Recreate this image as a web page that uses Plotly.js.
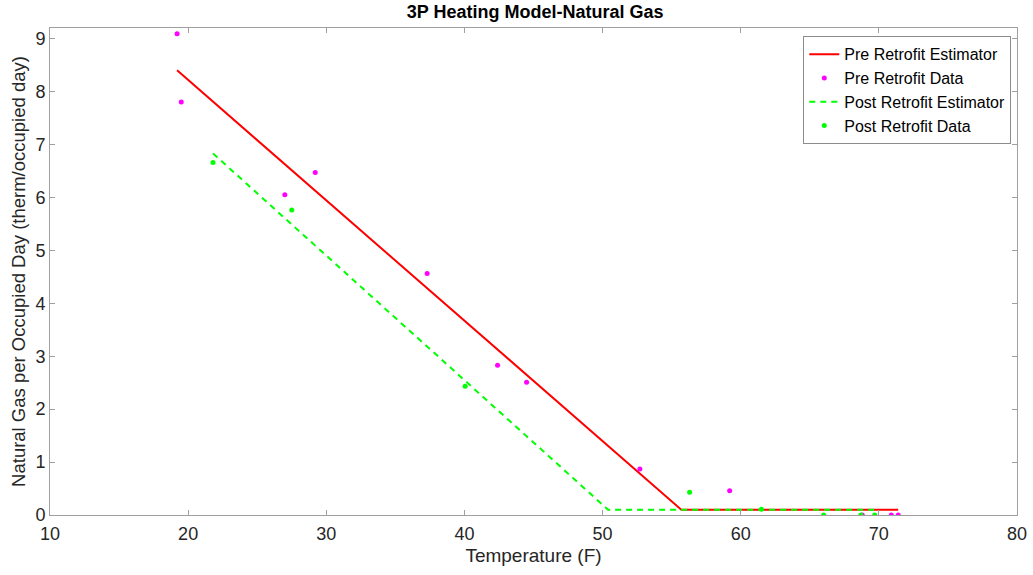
<!DOCTYPE html>
<html><head><meta charset="utf-8">
<script src="https://cdn.plot.ly/plotly-3.0.1.min.js"></script>
<style>html,body{margin:0;padding:0;background:#fff}#chart{width:1033px;height:575px}</style>
</head><body><div id="chart"></div>
<script>
// Pre retrofit data
const preTemp = [19.2, 19.5, 27.0, 29.2, 37.3, 42.4, 44.5, 52.7, 59.2, 68.8, 70.9, 71.4];
const preGas  = [9.09, 7.80, 6.05, 6.47, 4.56, 2.83, 2.51, 0.87, 0.46, 0.0, 0.0, 0.0];
// Post retrofit data
const postTemp = [21.8, 27.5, 40.05, 56.3, 61.5, 66.0, 68.7, 69.7];
const postGas  = [6.66, 5.76, 2.43, 0.43, 0.11, 0.0, 0.0, 0.0];
// Estimators (3P heating model: start, change point, end)
const preEstTemp = [19.2, 55.7, 71.4];
const preEstGas  = [8.40, 0.10, 0.10];
const postEstTemp = [21.8, 50.4, 69.7];
const postEstGas  = [6.83, 0.10, 0.10];

const FONT = 'Liberation Sans, Arial, sans-serif';

const traces = [
  {x: preEstTemp, y: preEstGas, mode: 'lines', name: 'Pre Retrofit Estimator',
   line: {color: '#ff0000', width: 2}},
  {x: preTemp, y: preGas, mode: 'markers', name: 'Pre Retrofit Data',
   marker: {color: '#ff00ff', size: 5}},
  {x: postEstTemp, y: postEstGas, mode: 'lines', name: 'Post Retrofit Estimator',
   line: {color: '#00ff00', width: 2, dash: '6px,5px'}},
  {x: postTemp, y: postGas, mode: 'markers', name: 'Post Retrofit Data',
   marker: {color: '#00ff00', size: 5}}
];

const axisCommon = {
  showline: true, linecolor: '#a0a0a0', linewidth: 1, mirror: 'ticks',
  ticks: 'inside', ticklen: 5, tickcolor: '#a0a0a0', showgrid: false, zeroline: false,
  tickfont: {family: FONT, size: 18, color: '#262626'}
};

const layout = {
  width: 1033, height: 575,
  margin: {l: 50, r: 16, t: 28, b: 60},
  paper_bgcolor: '#fff', plot_bgcolor: '#fff',
  title: {text: '<b>3P Heating Model-Natural Gas</b>', x: 0.518, xanchor: 'center', y: 0.991, yanchor: 'top',
          font: {family: FONT, size: 18, color: '#000'}},
  xaxis: Object.assign({}, axisCommon, {
    range: [10, 80], tickvals: [10,20,30,40,50,60,70,80], ticklabelstandoff: 2,
    title: {text: 'Temperature (F)', standoff: 6,
            font: {family: FONT, size: 19, color: '#262626'}}
  }),
  yaxis: Object.assign({}, axisCommon, {
    range: [0, 9.2], tickvals: [0,1,2,3,4,5,6,7,8,9], ticklabelstandoff: 0,
    title: {text: 'Natural Gas per Occupied Day (therm/occupied day)', standoff: 4,
            font: {family: FONT, size: 18.5, color: '#262626'}}
  }),
  showlegend: true,
  legend: {x: 0.779, y: 0.983, xanchor: 'left', yanchor: 'top',
           bgcolor: '#fff', bordercolor: '#8c8c8c', borderwidth: 1,
           font: {family: FONT, size: 16, color: '#000'},
           tracegroupgap: 0, itemwidth: 30}
};

Plotly.newPlot('chart', traces, layout, {displayModeBar: false, staticPlot: true});
</script></body></html>
